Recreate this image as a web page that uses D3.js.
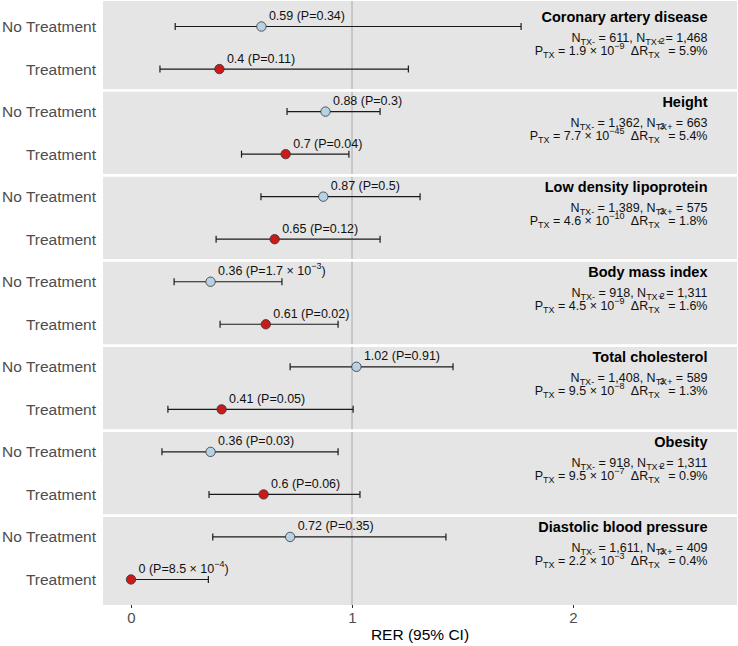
<!DOCTYPE html>
<html><head><meta charset="utf-8">
<script src="https://cdn.jsdelivr.net/npm/d3@7/dist/d3.min.js"></script>
<style>body{margin:0;background:#fff}svg{display:block;font-family:"Liberation Sans",Arial,sans-serif}</style>
</head><body><svg id="c" width="738" height="646"></svg>
<script>
const traits = ["Coronary artery disease","Height","Low density lipoprotein","Body mass index","Total cholesterol","Obesity","Diastolic blood pressure"];
const groups = ["No Treatment","Treatment"];
const estNo = [0.59,0.88,0.87,0.36,1.02,0.36,0.72];
const loNo  = [0.20,0.706,0.588,0.195,0.72,0.14,0.37];
const hiNo  = [1.765,1.127,1.308,0.683,1.457,0.937,1.425];
const pNo   = ["0.34","0.3","0.5","1.7 × 10^−3","0.91","0.03","0.35"];
const estTx = [0.4,0.7,0.65,0.61,0.41,0.6,0];
const loTx  = [0.131,0.50,0.385,0.403,0.167,0.353,0];
const hiTx  = [1.255,0.986,1.127,0.937,1.005,1.036,0.35];
const pTx   = ["0.11","0.04","0.12","0.02","0.05","0.06","8.5 × 10^−4"];
const nNeg  = ["611","1,362","1,389","918","1,408","918","1,611"];
const nPos  = ["1,468","663","575","1,311","589","1,311","409"];
const pTX   = ["1.9 × 10^−9","7.7 × 10^−45","4.6 × 10^−10","4.5 × 10^−9","9.5 × 10^−8","9.5 × 10^−7","2.2 × 10^−3"];
const dR2   = ["5.9%","5.4%","1.8%","1.6%","1.3%","0.9%","0.4%"];
const xTicks = [0,1,2];
const xTitle = "RER (95% CI)";

const svg = d3.select("#c");
const L=103, R=737, T=1, B=605;
const x = d3.scaleLinear().domain([-0.1267, 2.742]).range([L,R]);
const rows = [];
traits.forEach((t,i)=>{ rows.push({i,g:0,key:i+"-0",est:estNo[i],lo:loNo[i],hi:hiNo[i],p:pNo[i]});
                         rows.push({i,g:1,key:i+"-1",est:estTx[i],lo:loTx[i],hi:hiTx[i],p:pTx[i]}); });
const y = d3.scalePoint().domain(rows.map(r=>r.key)).range([T,B]).padding(0.6);
const step = y.step();

svg.append("rect").attr("x",L).attr("y",T).attr("width",R-L).attr("height",B-T).attr("fill","#e5e5e5");
svg.append("line").attr("x1",x(1)).attr("x2",x(1)).attr("y1",T).attr("y2",B).attr("stroke","#bdbdbd").attr("stroke-width",1.5);
traits.slice(0,-1).forEach((t,i)=>{
  const yy = y(i+"-1")+step/2;
  svg.append("line").attr("x1",L).attr("x2",R).attr("y1",yy).attr("y2",yy).attr("stroke","#fff").attr("stroke-width",2.8);
});

function rich(sel, segs, base, sub){
  let cur=0;
  segs.forEach(([t,m])=>{
    const off = m===0?0:(m===1?3:(m===2?-6:-11));
    const fs = m===0?base:sub;
    sel.append("tspan").attr("dy",off-cur).attr("font-size",fs).text(t);
    cur=off;
  });
}
function parseSup(s){
  const k=s.indexOf("^");
  if(k<0) return [[s,0]];
  return [[s.slice(0,k),0],[s.slice(k+1),2]];
}

const g = svg.append("g");
rows.forEach(r=>{
  const yy=y(r.key);
  g.append("line").attr("x1",x(r.lo)).attr("x2",x(r.hi)).attr("y1",yy).attr("y2",yy).attr("stroke","#1a1a1a").attr("stroke-width",1.2);
  [r.lo,r.hi].forEach(v=>g.append("line").attr("x1",x(v)).attr("x2",x(v)).attr("y1",yy-3.5).attr("y2",yy+3.5).attr("stroke","#1a1a1a").attr("stroke-width",1.2));
});
rows.forEach(r=>{
  const yy=y(r.key);
  g.append("circle").attr("cx",x(r.est)).attr("cy",yy).attr("r",4.7)
   .attr("fill",r.g===0?"#b7d1e5":"#cc1a1a").attr("stroke","#333").attr("stroke-width",0.8);
  const tx = g.append("text").attr("x",x(r.est)+7.5).attr("y",yy-6.5).attr("font-size",12.5).attr("fill","#111");
  const segs = parseSup(r.p);
  segs[0][0] = String(r.est)+" (P="+segs[0][0];
  segs.push([")",0]);
  rich(tx, segs, 12.5, 9);
});

rows.forEach(r=>{
  svg.append("text").attr("x",96).attr("y",y(r.key)+5.5).attr("text-anchor","end")
    .attr("font-size",15.5).attr("fill","#4d4d4d").text(groups[r.g]);
});

const ax = 707.5;
traits.forEach((t,i)=>{
  const y0 = y(i+"-0");
  svg.append("text").attr("x",ax).attr("y",y0-4.5).attr("text-anchor","end").attr("font-size",14.5)
     .attr("font-weight","bold").attr("fill","#000").text(t);
  const t2 = svg.append("text").attr("x",ax).attr("y",y0+15).attr("text-anchor","end").attr("fill","#111");
  rich(t2, [["N",0],["TX-",1],[" = "+nNeg[i]+", N",0],["TX+",1],[" = "+nPos[i],0]], 12.5, 9);
  const t3 = svg.append("text").attr("x",ax).attr("y",y0+28.5).attr("text-anchor","end").attr("fill","#111");
  const ps = parseSup(pTX[i]);
  rich(t3, [["P",0],["TX",1],[" = "+ps[0][0],0],[ps[1][0],2],["\u2002\u0394R",0],["TX",1],["2",3],[" = "+dR2[i],0]], 12.5, 9);
});

const xa = svg.append("g").attr("transform",`translate(0,${B})`)
  .call(d3.axisBottom(x).tickValues(xTicks).tickSize(3).tickPadding(4).tickFormat(d3.format("d")));
xa.select(".domain").remove();
xa.selectAll(".tick line").attr("stroke","#333");
xa.selectAll(".tick text").attr("font-size",15).attr("fill","#4d4d4d").attr("font-family","Liberation Sans, Arial, sans-serif");
svg.append("text").attr("x",(L+R)/2).attr("y",640).attr("text-anchor","middle").attr("font-size",15.5).attr("fill","#000").text(xTitle);
</script></body></html>
